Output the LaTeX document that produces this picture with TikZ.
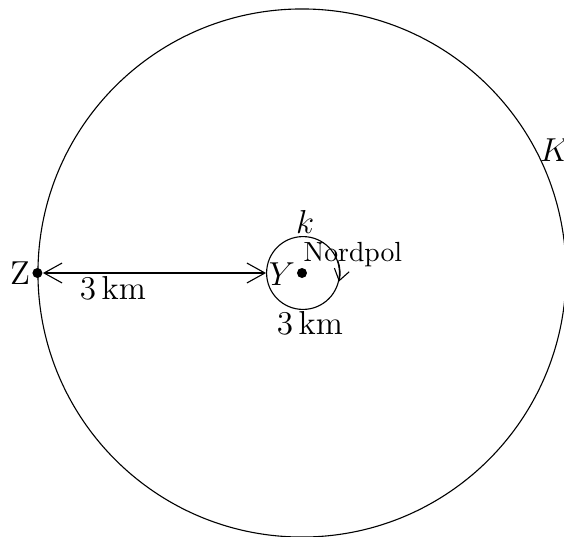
\documentclass[tikz,border=0pt]{standalone}
\usepackage{tikz}
\usetikzlibrary{arrows.meta,positioning}

\begin{document}
\begin{tikzpicture}[
  dot/.style={circle,fill=black,inner sep=0pt,minimum size=0.127cm},
  ring/.style={circle,draw=black,inner sep=0pt},
  lbl/.style={font=\fontsize{12}{14}\selectfont,inner sep=0pt},
  dist/.style={{Straight Barb[length=6.5pt,width=7.2pt]}-{Straight Barb[length=6.5pt,width=7.2pt]}}]

\useasboundingbox (-3.835,-3.340) rectangle (3.327,3.467);

%% ---------- circles ----------
\node[ring,minimum size=6.706cm](K) at (0,0){};
\node[ring,minimum size=0.925cm](k) at (0.013,0){};
\node[lbl] at (3.213,1.562){$K$};
\node[lbl] at (0.04,0.648){$k$};

%% ---------- points ----------
\node[dot](N) at (0,0){};
\node[dot](Z) at (K.west){};
\node[lbl,left=0.5pt of Z]{Z};
\node[lbl] at (-0.254,-0.013){$Y$};
\node[font=\fontsize{10}{12}\selectfont,inner sep=0pt,anchor=base west] at (0.013,0.14){Nordpol};

%% ---------- distances ----------
\draw[dist](Z)--(k.west);
\node[lbl] at (-2.40,-0.19){3\,km};
\node[lbl] at (0.10,-0.635){3\,km};

% direction on the small circle
\draw[-{Straight Barb[length=4pt,width=5.5pt]}] (k.20) arc[start angle=20,end angle=-14,radius=0.4625cm];

\end{tikzpicture}
\end{document}
